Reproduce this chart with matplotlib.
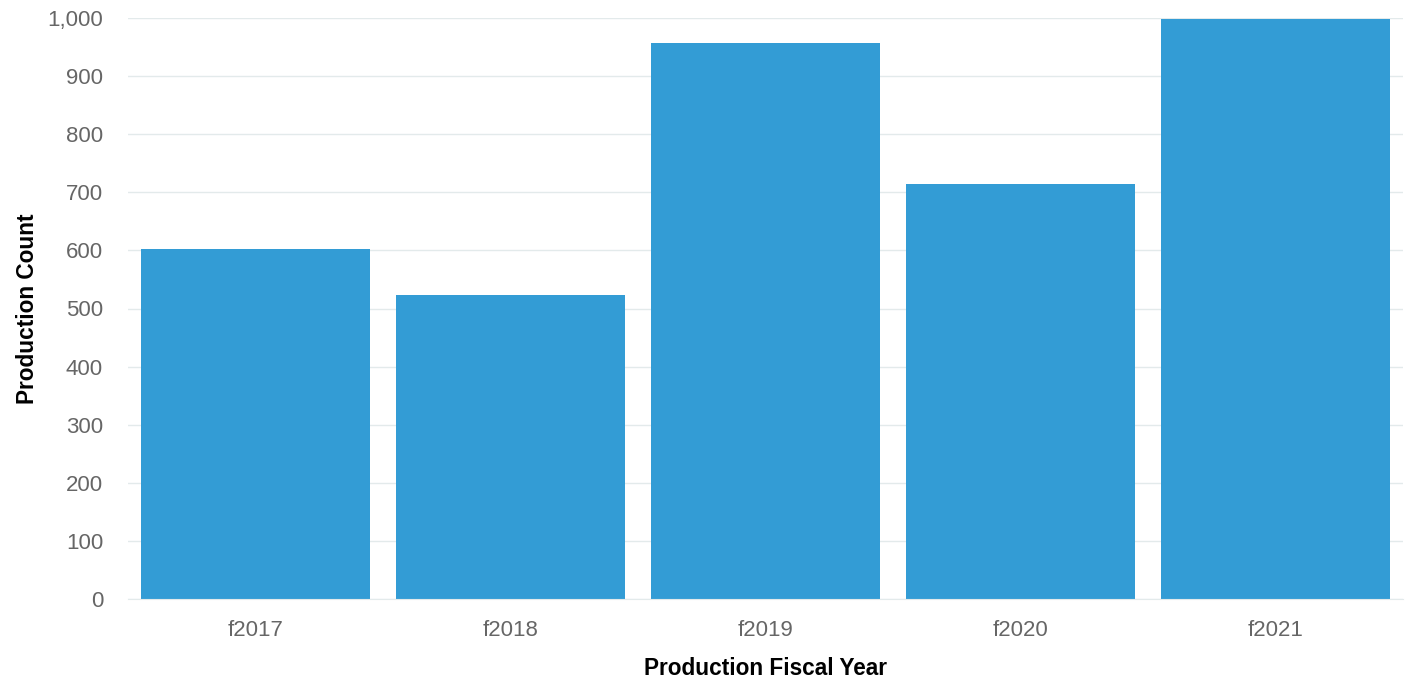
import matplotlib
matplotlib.use('Agg')
import matplotlib.pyplot as plt
from matplotlib import ticker

years = ['f2017', 'f2018', 'f2019', 'f2020', 'f2021']
counts = [602, 524, 957, 714, 999]

plt.rcParams['font.family'] = ['Liberation Sans', 'DejaVu Sans']

fig = plt.figure(figsize=(14.1, 6.79), dpi=100)
ax = fig.add_axes([128 / 1410, 1 - 598.7 / 679, (1403 - 128) / 1410, (598.7 - 18.3) / 679])

x = range(len(years))
ax.bar(x, counts, width=0.9, color='#339cd5', zorder=2)
ax.set_xlim(-0.5, len(years) - 0.5)
ax.set_ylim(0, 1000)
ax.yaxis.set_major_locator(ticker.MultipleLocator(100))
ax.yaxis.set_major_formatter(ticker.FuncFormatter(lambda v, p: '{:,.0f}'.format(v)))
ax.set_xticks(list(x))
ax.set_xticklabels(years)

ax.grid(axis='y', color='#e3eaeb', lw=1, zorder=0)
for s in ['top', 'right', 'left']:
    ax.spines[s].set_visible(False)
ax.spines['bottom'].set_color('#e3eaeb')
ax.tick_params(axis='both', length=0, labelsize=16, colors='#666666')
ax.tick_params(axis='y', pad=18)
ax.tick_params(axis='x', pad=15)

ax.set_xlabel('Production Fiscal Year', fontsize=16.3, fontweight='bold', labelpad=12)
ax.set_ylabel('Production Count', fontsize=16.3, fontweight='bold', labelpad=6)

fig.savefig('out.png', dpi=100)
